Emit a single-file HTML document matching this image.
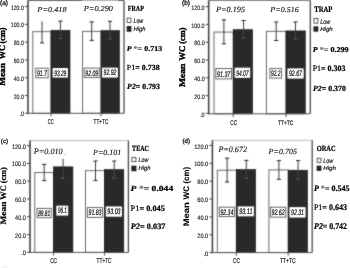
<!DOCTYPE html>
<html><head><meta charset="utf-8"><style>
html,body{margin:0;padding:0;background:#fff;}
body{width:350px;height:268px;overflow:hidden;}
svg{display:block;}
text{font-family:"Liberation Sans",sans-serif;}
</style></head><body>
<svg width="350" height="268" viewBox="0 0 350 268" text-rendering="geometricPrecision">
<defs><pattern id="chk" x="0" y="0" width="2" height="2" patternUnits="userSpaceOnUse"><rect width="2" height="2" fill="#080808"/><rect width="1" height="1" fill="#4a4a4a"/><rect x="1" y="1" width="1" height="1" fill="#4a4a4a"/></pattern><filter id="bl" x="0" y="0" width="350" height="268" filterUnits="userSpaceOnUse" color-interpolation-filters="sRGB"><feConvolveMatrix order="3" kernelMatrix="1 5 1 5 25 5 1 5 1" edgeMode="duplicate"/></filter><filter id="blt" x="0" y="0" width="350" height="268" filterUnits="userSpaceOnUse" color-interpolation-filters="sRGB"><feConvolveMatrix order="3" kernelMatrix="0 0 0 0 1 0 0 0 0" edgeMode="none" preserveAlpha="false"/></filter></defs>
<g filter="url(#bl)">
<rect width="350" height="268" fill="#fff"/>
<line x1="28.0" y1="0.5" x2="82.0" y2="0.5" stroke="#6a6a6a" stroke-width="1.0"/>
<line x1="82.0" y1="0.5" x2="118.0" y2="0.5" stroke="#b0b0b0" stroke-width="1.0"/>
<line x1="118.0" y1="0.5" x2="124.0" y2="0.5" stroke="#6a6a6a" stroke-width="1.0"/>
<line x1="124.0" y1="0.5" x2="124.0" y2="113.3" stroke="#4a4a4a" stroke-width="1.3"/>
<rect x="32.80" y="31.69" width="18.20" height="81.61" fill="#fff" stroke="#5a5a5a" stroke-width="0.9"/>
<rect x="51.00" y="30.27" width="19.00" height="83.03" fill="url(#chk)" stroke="#111" stroke-width="0.6"/>
<rect x="82.60" y="31.34" width="18.40" height="81.96" fill="#fff" stroke="#5a5a5a" stroke-width="0.9"/>
<rect x="101.00" y="30.60" width="18.50" height="82.70" fill="url(#chk)" stroke="#111" stroke-width="0.6"/>
<line x1="42.0" y1="21.4" x2="42.0" y2="42.9" stroke="#3a3a3a" stroke-width="1.0"/>
<line x1="39.9" y1="42.9" x2="44.1" y2="42.9" stroke="#222" stroke-width="1.0"/>
<line x1="60.4" y1="21.1" x2="60.4" y2="30.271899999999988" stroke="#3a3a3a" stroke-width="1.0"/>
<line x1="60.4" y1="30.271899999999988" x2="60.4" y2="38.6" stroke="#444" stroke-width="1.0"/>
<line x1="58.3" y1="21.1" x2="62.5" y2="21.1" stroke="#222" stroke-width="1.0"/>
<line x1="58.3" y1="38.6" x2="62.5" y2="38.6" stroke="#555" stroke-width="1.0"/>
<line x1="91.7" y1="21.9" x2="91.7" y2="40.4" stroke="#3a3a3a" stroke-width="1.0"/>
<line x1="89.60000000000001" y1="21.9" x2="93.8" y2="21.9" stroke="#222" stroke-width="1.0"/>
<line x1="89.60000000000001" y1="40.4" x2="93.8" y2="40.4" stroke="#222" stroke-width="1.0"/>
<line x1="110.0" y1="21.3" x2="110.0" y2="30.60119999999999" stroke="#3a3a3a" stroke-width="1.0"/>
<line x1="110.0" y1="30.60119999999999" x2="110.0" y2="39.0" stroke="#444" stroke-width="1.0"/>
<line x1="107.9" y1="21.3" x2="112.1" y2="21.3" stroke="#222" stroke-width="1.0"/>
<line x1="107.9" y1="39.0" x2="112.1" y2="39.0" stroke="#555" stroke-width="1.0"/>
<line x1="28.0" y1="0.5" x2="28.0" y2="113.8" stroke="#444" stroke-width="1.6"/>
<line x1="27.4" y1="113.3" x2="124.0" y2="113.3" stroke="#555" stroke-width="1.0"/>
<line x1="24.8" y1="113.3" x2="28.0" y2="113.3" stroke="#333" stroke-width="0.9"/>
<line x1="24.8" y1="95.5" x2="28.0" y2="95.5" stroke="#333" stroke-width="0.9"/>
<line x1="24.8" y1="77.69999999999999" x2="28.0" y2="77.69999999999999" stroke="#333" stroke-width="0.9"/>
<line x1="24.8" y1="59.9" x2="28.0" y2="59.9" stroke="#333" stroke-width="0.9"/>
<line x1="24.8" y1="42.099999999999994" x2="28.0" y2="42.099999999999994" stroke="#333" stroke-width="0.9"/>
<line x1="24.8" y1="24.299999999999997" x2="28.0" y2="24.299999999999997" stroke="#333" stroke-width="0.9"/>
<line x1="24.8" y1="6.5" x2="28.0" y2="6.5" stroke="#333" stroke-width="0.9"/>
<line x1="51.0" y1="113.3" x2="51.0" y2="116.5" stroke="#444" stroke-width="0.9"/>
<line x1="101.0" y1="113.3" x2="101.0" y2="116.5" stroke="#444" stroke-width="0.9"/>
<rect x="35.80" y="68.20" width="12.30" height="9.60" fill="#fff" stroke="#505050" stroke-width="0.9"/>
<rect x="53.10" y="68.50" width="14.30" height="8.60" fill="#fff" stroke="#fff" stroke-width="0.9"/>
<rect x="84.20" y="68.10" width="15.00" height="9.30" fill="#fff" stroke="#505050" stroke-width="0.9"/>
<rect x="102.50" y="68.10" width="15.00" height="9.00" fill="#fff" stroke="#fff" stroke-width="0.9"/>
<rect x="127.15" y="18.05" width="3.80" height="4.60" fill="#fff" stroke="#333" stroke-width="0.8"/>
<rect x="127.25" y="26.65" width="3.60" height="4.50" fill="url(#chk)" stroke="#111" stroke-width="1.1"/>
<line x1="208.7" y1="0.5" x2="310.3" y2="0.5" stroke="#888" stroke-width="1.0"/>
<line x1="310.3" y1="0.5" x2="310.3" y2="113.8" stroke="#4a4a4a" stroke-width="1.3"/>
<rect x="214.00" y="32.08" width="19.20" height="81.72" fill="#fff" stroke="#5a5a5a" stroke-width="0.9"/>
<rect x="233.20" y="29.68" width="19.40" height="84.12" fill="url(#chk)" stroke="#111" stroke-width="0.6"/>
<rect x="266.40" y="31.34" width="19.60" height="82.46" fill="#fff" stroke="#5a5a5a" stroke-width="0.9"/>
<rect x="286.00" y="30.92" width="19.30" height="82.88" fill="url(#chk)" stroke="#111" stroke-width="0.6"/>
<line x1="223.9" y1="19.8" x2="223.9" y2="43.8" stroke="#3a3a3a" stroke-width="1.0"/>
<line x1="221.8" y1="19.8" x2="226.0" y2="19.8" stroke="#222" stroke-width="1.0"/>
<line x1="221.8" y1="43.8" x2="226.0" y2="43.8" stroke="#222" stroke-width="1.0"/>
<line x1="243.6" y1="20.5" x2="243.6" y2="29.6777" stroke="#3a3a3a" stroke-width="1.0"/>
<line x1="243.6" y1="29.6777" x2="243.6" y2="38.0" stroke="#444" stroke-width="1.0"/>
<line x1="241.5" y1="20.5" x2="245.7" y2="20.5" stroke="#222" stroke-width="1.0"/>
<line x1="241.5" y1="38.0" x2="245.7" y2="38.0" stroke="#555" stroke-width="1.0"/>
<line x1="276.2" y1="22.0" x2="276.2" y2="40.5" stroke="#3a3a3a" stroke-width="1.0"/>
<line x1="274.09999999999997" y1="22.0" x2="278.3" y2="22.0" stroke="#222" stroke-width="1.0"/>
<line x1="274.09999999999997" y1="40.5" x2="278.3" y2="40.5" stroke="#222" stroke-width="1.0"/>
<line x1="295.5" y1="22.0" x2="295.5" y2="30.923699999999997" stroke="#3a3a3a" stroke-width="1.0"/>
<line x1="295.5" y1="30.923699999999997" x2="295.5" y2="39.0" stroke="#444" stroke-width="1.0"/>
<line x1="293.4" y1="22.0" x2="297.6" y2="22.0" stroke="#222" stroke-width="1.0"/>
<line x1="293.4" y1="39.0" x2="297.6" y2="39.0" stroke="#555" stroke-width="1.0"/>
<line x1="208.7" y1="0.5" x2="208.7" y2="114.3" stroke="#444" stroke-width="1.6"/>
<line x1="208.1" y1="113.8" x2="310.3" y2="113.8" stroke="#555" stroke-width="1.0"/>
<line x1="205.5" y1="113.4" x2="208.7" y2="113.4" stroke="#333" stroke-width="0.9"/>
<line x1="205.5" y1="95.6" x2="208.7" y2="95.6" stroke="#333" stroke-width="0.9"/>
<line x1="205.5" y1="77.8" x2="208.7" y2="77.8" stroke="#333" stroke-width="0.9"/>
<line x1="205.5" y1="60.0" x2="208.7" y2="60.0" stroke="#333" stroke-width="0.9"/>
<line x1="205.5" y1="42.19999999999999" x2="208.7" y2="42.19999999999999" stroke="#333" stroke-width="0.9"/>
<line x1="205.5" y1="24.39999999999999" x2="208.7" y2="24.39999999999999" stroke="#333" stroke-width="0.9"/>
<line x1="205.5" y1="6.599999999999994" x2="208.7" y2="6.599999999999994" stroke="#333" stroke-width="0.9"/>
<line x1="233.2" y1="113.8" x2="233.2" y2="117.0" stroke="#444" stroke-width="0.9"/>
<line x1="286.0" y1="113.8" x2="286.0" y2="117.0" stroke="#444" stroke-width="0.9"/>
<rect x="215.90" y="68.60" width="15.70" height="10.30" fill="#fff" stroke="#505050" stroke-width="0.9"/>
<rect x="235.10" y="68.10" width="14.70" height="9.30" fill="#fff" stroke="#fff" stroke-width="0.9"/>
<rect x="269.90" y="68.60" width="11.60" height="9.50" fill="#fff" stroke="#505050" stroke-width="0.9"/>
<rect x="287.90" y="68.90" width="15.30" height="9.20" fill="#fff" stroke="#fff" stroke-width="0.9"/>
<rect x="313.95" y="18.45" width="3.90" height="4.70" fill="#fff" stroke="#333" stroke-width="0.8"/>
<rect x="314.05" y="26.95" width="3.70" height="4.10" fill="url(#chk)" stroke="#111" stroke-width="1.1"/>
<line x1="30.0" y1="140.5" x2="128.4" y2="140.5" stroke="#bbb" stroke-width="1.0"/>
<line x1="128.4" y1="140.5" x2="128.4" y2="252.4" stroke="#4a4a4a" stroke-width="1.3"/>
<rect x="34.80" y="172.47" width="18.70" height="79.93" fill="#fff" stroke="#5a5a5a" stroke-width="0.9"/>
<rect x="53.50" y="166.87" width="19.40" height="85.53" fill="url(#chk)" stroke="#111" stroke-width="0.6"/>
<rect x="85.50" y="170.67" width="19.00" height="81.73" fill="#fff" stroke="#5a5a5a" stroke-width="0.9"/>
<rect x="104.50" y="169.60" width="19.30" height="82.80" fill="url(#chk)" stroke="#111" stroke-width="0.6"/>
<line x1="44.2" y1="164.4" x2="44.2" y2="180.6" stroke="#3a3a3a" stroke-width="1.0"/>
<line x1="42.1" y1="164.4" x2="46.300000000000004" y2="164.4" stroke="#222" stroke-width="1.0"/>
<line x1="42.1" y1="180.6" x2="46.300000000000004" y2="180.6" stroke="#222" stroke-width="1.0"/>
<line x1="63.1" y1="158.7" x2="63.1" y2="166.87099999999998" stroke="#3a3a3a" stroke-width="1.0"/>
<line x1="63.1" y1="166.87099999999998" x2="63.1" y2="178.5" stroke="#444" stroke-width="1.0"/>
<line x1="61.0" y1="178.5" x2="65.2" y2="178.5" stroke="#555" stroke-width="1.0"/>
<line x1="95.5" y1="161.0" x2="95.5" y2="180.4" stroke="#3a3a3a" stroke-width="1.0"/>
<line x1="93.4" y1="161.0" x2="97.6" y2="161.0" stroke="#222" stroke-width="1.0"/>
<line x1="93.4" y1="180.4" x2="97.6" y2="180.4" stroke="#222" stroke-width="1.0"/>
<line x1="114.2" y1="161.0" x2="114.2" y2="169.6033" stroke="#3a3a3a" stroke-width="1.0"/>
<line x1="114.2" y1="169.6033" x2="114.2" y2="177.9" stroke="#444" stroke-width="1.0"/>
<line x1="112.10000000000001" y1="161.0" x2="116.3" y2="161.0" stroke="#222" stroke-width="1.0"/>
<line x1="112.10000000000001" y1="177.9" x2="116.3" y2="177.9" stroke="#555" stroke-width="1.0"/>
<line x1="30.0" y1="140.5" x2="30.0" y2="252.9" stroke="#444" stroke-width="1.6"/>
<line x1="29.4" y1="252.4" x2="128.4" y2="252.4" stroke="#555" stroke-width="1.0"/>
<line x1="26.8" y1="252.4" x2="30.0" y2="252.4" stroke="#333" stroke-width="0.9"/>
<line x1="26.8" y1="234.6" x2="30.0" y2="234.6" stroke="#333" stroke-width="0.9"/>
<line x1="26.8" y1="216.8" x2="30.0" y2="216.8" stroke="#333" stroke-width="0.9"/>
<line x1="26.8" y1="199.0" x2="30.0" y2="199.0" stroke="#333" stroke-width="0.9"/>
<line x1="26.8" y1="181.2" x2="30.0" y2="181.2" stroke="#333" stroke-width="0.9"/>
<line x1="26.8" y1="163.39999999999998" x2="30.0" y2="163.39999999999998" stroke="#333" stroke-width="0.9"/>
<line x1="26.8" y1="145.6" x2="30.0" y2="145.6" stroke="#333" stroke-width="0.9"/>
<line x1="53.5" y1="252.4" x2="53.5" y2="255.6" stroke="#444" stroke-width="0.9"/>
<line x1="104.5" y1="252.4" x2="104.5" y2="255.6" stroke="#444" stroke-width="0.9"/>
<rect x="37.10" y="208.40" width="14.10" height="9.30" fill="#fff" stroke="#505050" stroke-width="0.9"/>
<rect x="56.80" y="206.10" width="11.00" height="9.00" fill="#fff" stroke="#fff" stroke-width="0.9"/>
<rect x="87.40" y="207.60" width="15.20" height="9.80" fill="#fff" stroke="#505050" stroke-width="0.9"/>
<rect x="106.20" y="206.90" width="15.40" height="9.30" fill="#fff" stroke="#fff" stroke-width="0.9"/>
<rect x="131.85" y="157.35" width="4.10" height="4.30" fill="#fff" stroke="#333" stroke-width="0.8"/>
<rect x="131.95" y="166.25" width="3.90" height="4.40" fill="url(#chk)" stroke="#111" stroke-width="1.1"/>
<line x1="212.4" y1="140.3" x2="312.2" y2="140.3" stroke="#bbb" stroke-width="1.0"/>
<line x1="312.2" y1="140.3" x2="312.2" y2="252.6" stroke="#4a4a4a" stroke-width="1.3"/>
<rect x="217.30" y="170.19" width="19.00" height="82.41" fill="#fff" stroke="#5a5a5a" stroke-width="0.9"/>
<rect x="236.30" y="169.50" width="19.30" height="83.10" fill="url(#chk)" stroke="#111" stroke-width="0.6"/>
<rect x="268.90" y="169.94" width="19.30" height="82.66" fill="#fff" stroke="#5a5a5a" stroke-width="0.9"/>
<rect x="288.20" y="170.21" width="19.30" height="82.39" fill="url(#chk)" stroke="#111" stroke-width="0.6"/>
<line x1="227.1" y1="158.2" x2="227.1" y2="182.0" stroke="#3a3a3a" stroke-width="1.0"/>
<line x1="225.0" y1="158.2" x2="229.2" y2="158.2" stroke="#222" stroke-width="1.0"/>
<line x1="225.0" y1="182.0" x2="229.2" y2="182.0" stroke="#222" stroke-width="1.0"/>
<line x1="246.3" y1="160.4" x2="246.3" y2="169.499325" stroke="#3a3a3a" stroke-width="1.0"/>
<line x1="246.3" y1="169.499325" x2="246.3" y2="178.6" stroke="#444" stroke-width="1.0"/>
<line x1="244.20000000000002" y1="160.4" x2="248.4" y2="160.4" stroke="#222" stroke-width="1.0"/>
<line x1="244.20000000000002" y1="178.6" x2="248.4" y2="178.6" stroke="#555" stroke-width="1.0"/>
<line x1="278.9" y1="160.6" x2="278.9" y2="179.3" stroke="#3a3a3a" stroke-width="1.0"/>
<line x1="276.79999999999995" y1="160.6" x2="281.0" y2="160.6" stroke="#222" stroke-width="1.0"/>
<line x1="276.79999999999995" y1="179.3" x2="281.0" y2="179.3" stroke="#222" stroke-width="1.0"/>
<line x1="298.1" y1="160.6" x2="298.1" y2="170.213325" stroke="#3a3a3a" stroke-width="1.0"/>
<line x1="298.1" y1="170.213325" x2="298.1" y2="179.0" stroke="#444" stroke-width="1.0"/>
<line x1="296.0" y1="160.6" x2="300.20000000000005" y2="160.6" stroke="#222" stroke-width="1.0"/>
<line x1="296.0" y1="179.0" x2="300.20000000000005" y2="179.0" stroke="#555" stroke-width="1.0"/>
<line x1="212.4" y1="140.3" x2="212.4" y2="253.1" stroke="#444" stroke-width="1.6"/>
<line x1="211.8" y1="252.6" x2="312.2" y2="252.6" stroke="#555" stroke-width="1.0"/>
<line x1="209.20000000000002" y1="252.6" x2="212.4" y2="252.6" stroke="#333" stroke-width="0.9"/>
<line x1="209.20000000000002" y1="234.75" x2="212.4" y2="234.75" stroke="#333" stroke-width="0.9"/>
<line x1="209.20000000000002" y1="216.9" x2="212.4" y2="216.9" stroke="#333" stroke-width="0.9"/>
<line x1="209.20000000000002" y1="199.05" x2="212.4" y2="199.05" stroke="#333" stroke-width="0.9"/>
<line x1="209.20000000000002" y1="181.2" x2="212.4" y2="181.2" stroke="#333" stroke-width="0.9"/>
<line x1="209.20000000000002" y1="163.35" x2="212.4" y2="163.35" stroke="#333" stroke-width="0.9"/>
<line x1="209.20000000000002" y1="145.5" x2="212.4" y2="145.5" stroke="#333" stroke-width="0.9"/>
<line x1="236.3" y1="252.6" x2="236.3" y2="255.79999999999998" stroke="#444" stroke-width="0.9"/>
<line x1="288.2" y1="252.6" x2="288.2" y2="255.79999999999998" stroke="#444" stroke-width="0.9"/>
<rect x="219.40" y="207.20" width="15.00" height="9.40" fill="#fff" stroke="#505050" stroke-width="0.9"/>
<rect x="238.20" y="206.90" width="15.40" height="9.00" fill="#fff" stroke="#fff" stroke-width="0.9"/>
<rect x="270.40" y="207.20" width="15.40" height="9.90" fill="#fff" stroke="#505050" stroke-width="0.9"/>
<rect x="289.90" y="207.60" width="15.20" height="9.50" fill="#fff" stroke="#fff" stroke-width="0.9"/>
<rect x="317.15" y="158.25" width="3.80" height="4.30" fill="#fff" stroke="#333" stroke-width="0.8"/>
<rect x="317.25" y="166.25" width="3.60" height="4.00" fill="url(#chk)" stroke="#111" stroke-width="1.1"/>
<circle cx="65.0" cy="154.3" r="0.6" fill="#777"/>
</g>
<g filter="url(#blt)">
<text transform="translate(5.10,43.40) rotate(-90) scale(0.952,1)" font-size="8.60" fill="#000" stroke="#000" stroke-width="0.4"><tspan font-family="Liberation Serif" font-style="normal" font-weight="bold">(cm)</tspan></text>
<text transform="translate(5.10,59.20) rotate(-90) scale(0.959,1)" font-size="8.60" fill="#000" stroke="#000" stroke-width="0.4"><tspan font-family="Liberation Serif" font-style="normal" font-weight="bold">WC</tspan></text>
<text transform="translate(5.10,85.70) rotate(-90) scale(1.075,1)" font-size="8.60" fill="#000" stroke="#000" stroke-width="0.4"><tspan font-family="Liberation Serif" font-style="normal" font-weight="bold">Mean</tspan></text>
<text transform="translate(0.10,4.52) scale(0.972,1)" font-size="6.65" fill="#222" stroke="#222" stroke-width="0.35"><tspan font-family="Liberation Sans" font-style="normal" font-weight="normal">(a)</tspan></text>
<text transform="translate(19.47,116.44) scale(0.799,1)" font-size="6.50" fill="#2a2a2a" stroke="#2a2a2a" stroke-width="0.18"><tspan font-family="Liberation Sans" font-style="normal" font-weight="normal">.0</tspan></text>
<text transform="translate(13.69,98.64) scale(0.800,1)" font-size="6.50" fill="#2a2a2a" stroke="#2a2a2a" stroke-width="0.18"><tspan font-family="Liberation Sans" font-style="normal" font-weight="normal">20.0</tspan></text>
<text transform="translate(13.69,80.84) scale(0.800,1)" font-size="6.50" fill="#2a2a2a" stroke="#2a2a2a" stroke-width="0.18"><tspan font-family="Liberation Sans" font-style="normal" font-weight="normal">40.0</tspan></text>
<text transform="translate(13.69,63.04) scale(0.800,1)" font-size="6.50" fill="#2a2a2a" stroke="#2a2a2a" stroke-width="0.18"><tspan font-family="Liberation Sans" font-style="normal" font-weight="normal">60.0</tspan></text>
<text transform="translate(13.69,45.24) scale(0.800,1)" font-size="6.50" fill="#2a2a2a" stroke="#2a2a2a" stroke-width="0.18"><tspan font-family="Liberation Sans" font-style="normal" font-weight="normal">80.0</tspan></text>
<text transform="translate(10.80,27.44) scale(0.800,1)" font-size="6.50" fill="#2a2a2a" stroke="#2a2a2a" stroke-width="0.18"><tspan font-family="Liberation Sans" font-style="normal" font-weight="normal">100.0</tspan></text>
<text transform="translate(10.80,9.64) scale(0.800,1)" font-size="6.50" fill="#2a2a2a" stroke="#2a2a2a" stroke-width="0.18"><tspan font-family="Liberation Sans" font-style="normal" font-weight="normal">120.0</tspan></text>
<text transform="translate(37.35,12.19) scale(1.080,1)" font-size="7.66" fill="#1a1a1a" stroke="#1a1a1a" stroke-width="0.15"><tspan font-family="Liberation Serif" font-style="italic" font-weight="normal">P</tspan><tspan font-family="Liberation Serif" font-style="italic" font-weight="normal">=0.418</tspan></text>
<text transform="translate(83.75,11.49) scale(1.080,1)" font-size="7.66" fill="#1a1a1a" stroke="#1a1a1a" stroke-width="0.15"><tspan font-family="Liberation Serif" font-style="italic" font-weight="normal">P</tspan><tspan font-family="Liberation Serif" font-style="italic" font-weight="normal">=0.290</tspan></text>
<text transform="translate(127.70,11.40) scale(0.791,1)" font-size="7.73" fill="#000" stroke="#000" stroke-width="0.22"><tspan font-family="Liberation Serif" font-style="normal" font-weight="bold">FRAP</tspan></text>
<text transform="translate(133.60,23.04) scale(0.805,1)" font-size="6.45" fill="#222" stroke="#222" stroke-width="0.22"><tspan font-family="Liberation Sans" font-style="italic" font-weight="normal">Low</tspan></text>
<text transform="translate(133.60,31.11) scale(0.938,1)" font-size="6.22" fill="#222" stroke="#222" stroke-width="0.22"><tspan font-family="Liberation Sans" font-style="italic" font-weight="normal">High</tspan></text>
<text transform="translate(126.71,51.30) scale(1.085,1)" font-size="7.36" fill="#000" stroke="#000" stroke-width="0.22"><tspan font-family="Liberation Serif" font-style="italic" font-weight="bold">P</tspan><tspan font-family="Liberation Serif" font-style="normal" font-weight="bold" fill="#777" stroke="#777"> *</tspan><tspan font-family="Liberation Serif" font-style="normal" font-weight="bold" fill="#444" stroke="#444">= </tspan><tspan font-family="Liberation Serif" font-style="normal" font-weight="bold">0.713</tspan></text>
<text transform="translate(126.70,70.29) scale(1.028,1)" font-size="7.81" fill="#000" stroke="#000" stroke-width="0.22"><tspan font-family="Liberation Serif" font-style="normal" font-weight="normal">P1</tspan><tspan font-family="Liberation Serif" font-style="normal" font-weight="bold">= 0.738</tspan></text>
<text transform="translate(127.11,89.29) scale(1.005,1)" font-size="7.81" fill="#000" stroke="#000" stroke-width="0.22"><tspan font-family="Liberation Serif" font-style="italic" font-weight="bold">P2</tspan><tspan font-family="Liberation Serif" font-style="normal" font-weight="bold">= 0.793</tspan></text>
<text transform="translate(47.80,124.23) scale(0.580,1)" font-size="6.92" fill="#222" stroke="#222" stroke-width="0.22"><tspan font-family="Liberation Sans" font-style="normal" font-weight="normal">CC</tspan></text>
<text transform="translate(93.60,124.33) scale(0.691,1)" font-size="6.78" fill="#222" stroke="#222" stroke-width="0.22"><tspan font-family="Liberation Sans" font-style="normal" font-weight="normal">TT+TC</tspan></text>
<text transform="translate(36.90,75.87) scale(0.635,1)" font-size="8.05" fill="#111" stroke="#111" stroke-width="0.22"><tspan font-family="Liberation Sans" font-style="italic" font-weight="normal">91.7</tspan></text>
<text transform="translate(54.20,75.67) scale(0.601,1)" font-size="8.05" fill="#111" stroke="#111" stroke-width="0.22"><tspan font-family="Liberation Sans" font-style="italic" font-weight="normal">93.29</tspan></text>
<text transform="translate(85.30,75.62) scale(0.635,1)" font-size="8.05" fill="#111" stroke="#111" stroke-width="0.22"><tspan font-family="Liberation Sans" font-style="italic" font-weight="normal">92.09</tspan></text>
<text transform="translate(103.60,75.47) scale(0.635,1)" font-size="8.05" fill="#111" stroke="#111" stroke-width="0.22"><tspan font-family="Liberation Sans" font-style="italic" font-weight="normal">92.92</tspan></text>
<text transform="translate(184.90,43.70) rotate(-90) scale(0.964,1)" font-size="8.60" fill="#000" stroke="#000" stroke-width="0.4"><tspan font-family="Liberation Serif" font-style="normal" font-weight="bold">(cm)</tspan></text>
<text transform="translate(184.90,60.70) rotate(-90) scale(1.026,1)" font-size="8.60" fill="#000" stroke="#000" stroke-width="0.4"><tspan font-family="Liberation Serif" font-style="normal" font-weight="bold">WC</tspan></text>
<text transform="translate(184.90,87.00) rotate(-90) scale(1.109,1)" font-size="8.60" fill="#000" stroke="#000" stroke-width="0.4"><tspan font-family="Liberation Serif" font-style="normal" font-weight="bold">Mean</tspan></text>
<text transform="translate(182.00,4.52) scale(0.984,1)" font-size="6.65" fill="#222" stroke="#222" stroke-width="0.35"><tspan font-family="Liberation Sans" font-style="normal" font-weight="normal">(b)</tspan></text>
<text transform="translate(200.13,116.54) scale(0.825,1)" font-size="6.50" fill="#2a2a2a" stroke="#2a2a2a" stroke-width="0.18"><tspan font-family="Liberation Sans" font-style="normal" font-weight="normal">.0</tspan></text>
<text transform="translate(194.18,98.74) scale(0.824,1)" font-size="6.50" fill="#2a2a2a" stroke="#2a2a2a" stroke-width="0.18"><tspan font-family="Liberation Sans" font-style="normal" font-weight="normal">20.0</tspan></text>
<text transform="translate(194.18,80.94) scale(0.824,1)" font-size="6.50" fill="#2a2a2a" stroke="#2a2a2a" stroke-width="0.18"><tspan font-family="Liberation Sans" font-style="normal" font-weight="normal">40.0</tspan></text>
<text transform="translate(194.18,63.14) scale(0.824,1)" font-size="6.50" fill="#2a2a2a" stroke="#2a2a2a" stroke-width="0.18"><tspan font-family="Liberation Sans" font-style="normal" font-weight="normal">60.0</tspan></text>
<text transform="translate(194.18,45.34) scale(0.824,1)" font-size="6.50" fill="#2a2a2a" stroke="#2a2a2a" stroke-width="0.18"><tspan font-family="Liberation Sans" font-style="normal" font-weight="normal">80.0</tspan></text>
<text transform="translate(191.20,27.54) scale(0.824,1)" font-size="6.50" fill="#2a2a2a" stroke="#2a2a2a" stroke-width="0.18"><tspan font-family="Liberation Sans" font-style="normal" font-weight="normal">100.0</tspan></text>
<text transform="translate(191.20,9.74) scale(0.824,1)" font-size="6.50" fill="#2a2a2a" stroke="#2a2a2a" stroke-width="0.18"><tspan font-family="Liberation Sans" font-style="normal" font-weight="normal">120.0</tspan></text>
<text transform="translate(215.95,11.79) scale(1.018,1)" font-size="8.10" fill="#1a1a1a" stroke="#1a1a1a" stroke-width="0.15"><tspan font-family="Liberation Serif" font-style="italic" font-weight="normal">P</tspan><tspan font-family="Liberation Serif" font-style="italic" font-weight="normal">=0.195</tspan></text>
<text transform="translate(270.35,12.09) scale(1.054,1)" font-size="7.66" fill="#1a1a1a" stroke="#1a1a1a" stroke-width="0.15"><tspan font-family="Liberation Serif" font-style="italic" font-weight="normal">P</tspan><tspan font-family="Liberation Serif" font-style="italic" font-weight="normal">=0.516</tspan></text>
<text transform="translate(314.20,11.80) scale(0.802,1)" font-size="8.33" fill="#000" stroke="#000" stroke-width="0.22"><tspan font-family="Liberation Serif" font-style="normal" font-weight="bold">TRAP</tspan></text>
<text transform="translate(320.20,23.53) scale(0.802,1)" font-size="6.73" fill="#222" stroke="#222" stroke-width="0.22"><tspan font-family="Liberation Sans" font-style="italic" font-weight="normal">Low</tspan></text>
<text transform="translate(320.20,31.10) scale(1.050,1)" font-size="5.79" fill="#222" stroke="#222" stroke-width="0.22"><tspan font-family="Liberation Sans" font-style="italic" font-weight="normal">High</tspan></text>
<text transform="translate(312.71,52.29) scale(1.079,1)" font-size="7.51" fill="#000" stroke="#000" stroke-width="0.22"><tspan font-family="Liberation Serif" font-style="italic" font-weight="bold">P</tspan><tspan font-family="Liberation Serif" font-style="normal" font-weight="bold" fill="#777" stroke="#777"> *</tspan><tspan font-family="Liberation Serif" font-style="normal" font-weight="bold" fill="#444" stroke="#444">= </tspan><tspan font-family="Liberation Serif" font-style="normal" font-weight="bold">0.299</tspan></text>
<text transform="translate(312.70,71.28) scale(0.964,1)" font-size="8.25" fill="#000" stroke="#000" stroke-width="0.22"><tspan font-family="Liberation Serif" font-style="normal" font-weight="normal">P1</tspan><tspan font-family="Liberation Serif" font-style="normal" font-weight="bold">= 0.303</tspan></text>
<text transform="translate(312.91,90.69) scale(1.014,1)" font-size="7.81" fill="#000" stroke="#000" stroke-width="0.22"><tspan font-family="Liberation Serif" font-style="italic" font-weight="bold">P2</tspan><tspan font-family="Liberation Serif" font-style="normal" font-weight="bold">= 0.370</tspan></text>
<text transform="translate(230.30,125.13) scale(0.684,1)" font-size="6.78" fill="#222" stroke="#222" stroke-width="0.22"><tspan font-family="Liberation Sans" font-style="normal" font-weight="normal">CC</tspan></text>
<text transform="translate(278.00,124.94) scale(0.755,1)" font-size="6.50" fill="#222" stroke="#222" stroke-width="0.22"><tspan font-family="Liberation Sans" font-style="normal" font-weight="normal">TT+TC</tspan></text>
<text transform="translate(217.00,76.62) scale(0.662,1)" font-size="8.05" fill="#111" stroke="#111" stroke-width="0.22"><tspan font-family="Liberation Sans" font-style="italic" font-weight="normal">91.37</tspan></text>
<text transform="translate(236.20,75.62) scale(0.613,1)" font-size="8.05" fill="#111" stroke="#111" stroke-width="0.22"><tspan font-family="Liberation Sans" font-style="italic" font-weight="normal">94.07</tspan></text>
<text transform="translate(271.00,76.22) scale(0.600,1)" font-size="8.05" fill="#111" stroke="#111" stroke-width="0.22"><tspan font-family="Liberation Sans" font-style="italic" font-weight="normal">92.2</tspan></text>
<text transform="translate(289.00,76.37) scale(0.642,1)" font-size="8.05" fill="#111" stroke="#111" stroke-width="0.22"><tspan font-family="Liberation Sans" font-style="italic" font-weight="normal">92.67</tspan></text>
<text transform="translate(6.00,183.20) rotate(-90) scale(0.986,1)" font-size="8.40" fill="#000" stroke="#000" stroke-width="0.2"><tspan font-family="Liberation Serif" font-style="normal" font-weight="bold">(cm)</tspan></text>
<text transform="translate(6.00,199.70) rotate(-90) scale(0.996,1)" font-size="8.40" fill="#000" stroke="#000" stroke-width="0.2"><tspan font-family="Liberation Serif" font-style="normal" font-weight="bold">WC</tspan></text>
<text transform="translate(6.00,224.60) rotate(-90) scale(1.125,1)" font-size="8.40" fill="#000" stroke="#000" stroke-width="0.2"><tspan font-family="Liberation Serif" font-style="normal" font-weight="bold">Mean</tspan></text>
<text transform="translate(0.80,142.60) scale(1.095,1)" font-size="5.79" fill="#222" stroke="#222" stroke-width="0.35"><tspan font-family="Liberation Sans" font-style="normal" font-weight="normal">(c)</tspan></text>
<text transform="translate(21.20,255.48) scale(0.831,1)" font-size="6.64" fill="#2a2a2a" stroke="#2a2a2a" stroke-width="0.18"><tspan font-family="Liberation Sans" font-style="normal" font-weight="normal">.0</tspan></text>
<text transform="translate(15.07,237.68) scale(0.831,1)" font-size="6.64" fill="#2a2a2a" stroke="#2a2a2a" stroke-width="0.18"><tspan font-family="Liberation Sans" font-style="normal" font-weight="normal">20.0</tspan></text>
<text transform="translate(15.07,219.88) scale(0.831,1)" font-size="6.64" fill="#2a2a2a" stroke="#2a2a2a" stroke-width="0.18"><tspan font-family="Liberation Sans" font-style="normal" font-weight="normal">40.0</tspan></text>
<text transform="translate(15.07,202.08) scale(0.831,1)" font-size="6.64" fill="#2a2a2a" stroke="#2a2a2a" stroke-width="0.18"><tspan font-family="Liberation Sans" font-style="normal" font-weight="normal">60.0</tspan></text>
<text transform="translate(15.07,184.28) scale(0.831,1)" font-size="6.64" fill="#2a2a2a" stroke="#2a2a2a" stroke-width="0.18"><tspan font-family="Liberation Sans" font-style="normal" font-weight="normal">80.0</tspan></text>
<text transform="translate(12.00,166.48) scale(0.831,1)" font-size="6.64" fill="#2a2a2a" stroke="#2a2a2a" stroke-width="0.18"><tspan font-family="Liberation Sans" font-style="normal" font-weight="normal">100.0</tspan></text>
<text transform="translate(12.00,148.68) scale(0.831,1)" font-size="6.64" fill="#2a2a2a" stroke="#2a2a2a" stroke-width="0.18"><tspan font-family="Liberation Sans" font-style="normal" font-weight="normal">120.0</tspan></text>
<text transform="translate(33.65,153.88) scale(0.996,1)" font-size="8.25" fill="#1a1a1a" stroke="#1a1a1a" stroke-width="0.15"><tspan font-family="Liberation Serif" font-style="italic" font-weight="normal">P</tspan><tspan font-family="Liberation Serif" font-style="italic" font-weight="normal">=0.010</tspan></text>
<text transform="translate(93.05,155.19) scale(1.024,1)" font-size="7.81" fill="#1a1a1a" stroke="#1a1a1a" stroke-width="0.15"><tspan font-family="Liberation Serif" font-style="italic" font-weight="normal">P</tspan><tspan font-family="Liberation Serif" font-style="italic" font-weight="normal">=0.101</tspan></text>
<text transform="translate(132.10,150.62) scale(0.771,1)" font-size="7.89" fill="#000" stroke="#000" stroke-width="0.22"><tspan font-family="Liberation Serif" font-style="normal" font-weight="bold">TEAC</tspan></text>
<text transform="translate(138.60,162.03) scale(0.804,1)" font-size="6.59" fill="#222" stroke="#222" stroke-width="0.22"><tspan font-family="Liberation Sans" font-style="italic" font-weight="normal">Low</tspan></text>
<text transform="translate(138.60,170.25) scale(0.956,1)" font-size="6.00" fill="#222" stroke="#222" stroke-width="0.22"><tspan font-family="Liberation Sans" font-style="italic" font-weight="normal">High</tspan></text>
<text transform="translate(130.61,190.99) scale(1.232,1)" font-size="7.81" fill="#000" stroke="#000" stroke-width="0.22"><tspan font-family="Liberation Serif" font-style="italic" font-weight="bold">P</tspan><tspan font-family="Liberation Serif" font-style="normal" font-weight="bold" fill="#777" stroke="#777"> *</tspan><tspan font-family="Liberation Serif" font-style="normal" font-weight="bold" fill="#444" stroke="#444">= </tspan><tspan font-family="Liberation Serif" font-style="normal" font-weight="bold">0.044</tspan></text>
<text transform="translate(130.60,210.78) scale(1.008,1)" font-size="8.25" fill="#000" stroke="#000" stroke-width="0.22"><tspan font-family="Liberation Serif" font-style="normal" font-weight="normal">P1</tspan><tspan font-family="Liberation Serif" font-style="normal" font-weight="bold">= 0.045</tspan></text>
<text transform="translate(130.81,229.48) scale(1.003,1)" font-size="8.25" fill="#000" stroke="#000" stroke-width="0.22"><tspan font-family="Liberation Serif" font-style="italic" font-weight="bold">P2</tspan><tspan font-family="Liberation Serif" font-style="normal" font-weight="bold">= 0.037</tspan></text>
<text transform="translate(50.20,263.03) scale(0.695,1)" font-size="6.78" fill="#222" stroke="#222" stroke-width="0.22"><tspan font-family="Liberation Sans" font-style="normal" font-weight="normal">CC</tspan></text>
<text transform="translate(96.60,263.03) scale(0.663,1)" font-size="7.20" fill="#222" stroke="#222" stroke-width="0.22"><tspan font-family="Liberation Sans" font-style="normal" font-weight="normal">TT+TC</tspan></text>
<text transform="translate(38.20,215.92) scale(0.591,1)" font-size="8.05" fill="#111" stroke="#111" stroke-width="0.22"><tspan font-family="Liberation Sans" font-style="italic" font-weight="normal">89.81</tspan></text>
<text transform="translate(57.90,213.47) scale(0.562,1)" font-size="8.05" fill="#111" stroke="#111" stroke-width="0.22"><tspan font-family="Liberation Sans" font-style="italic" font-weight="normal">96.1</tspan></text>
<text transform="translate(88.50,215.37) scale(0.645,1)" font-size="8.05" fill="#111" stroke="#111" stroke-width="0.22"><tspan font-family="Liberation Sans" font-style="italic" font-weight="normal">91.83</tspan></text>
<text transform="translate(107.30,214.42) scale(0.655,1)" font-size="8.05" fill="#111" stroke="#111" stroke-width="0.22"><tspan font-family="Liberation Sans" font-style="italic" font-weight="normal">93.03</tspan></text>
<text transform="translate(188.70,183.60) rotate(-90) scale(0.977,1)" font-size="8.10" fill="#000" stroke="#000" stroke-width="0.12"><tspan font-family="Liberation Sans" font-style="normal" font-weight="bold">(cm)</tspan></text>
<text transform="translate(188.70,199.50) rotate(-90) scale(1.000,1)" font-size="8.10" fill="#000" stroke="#000" stroke-width="0.12"><tspan font-family="Liberation Sans" font-style="normal" font-weight="bold">WC</tspan></text>
<text transform="translate(188.70,226.30) rotate(-90) scale(1.169,1)" font-size="8.10" fill="#000" stroke="#000" stroke-width="0.12"><tspan font-family="Liberation Sans" font-style="normal" font-weight="bold">Mean</tspan></text>
<text transform="translate(182.60,142.53) scale(0.990,1)" font-size="6.12" fill="#222" stroke="#222" stroke-width="0.35"><tspan font-family="Liberation Sans" font-style="normal" font-weight="normal">(d)</tspan></text>
<text transform="translate(203.53,255.74) scale(0.862,1)" font-size="6.50" fill="#2a2a2a" stroke="#2a2a2a" stroke-width="0.18"><tspan font-family="Liberation Sans" font-style="normal" font-weight="normal">.0</tspan></text>
<text transform="translate(197.31,237.89) scale(0.861,1)" font-size="6.50" fill="#2a2a2a" stroke="#2a2a2a" stroke-width="0.18"><tspan font-family="Liberation Sans" font-style="normal" font-weight="normal">20.0</tspan></text>
<text transform="translate(197.31,220.04) scale(0.861,1)" font-size="6.50" fill="#2a2a2a" stroke="#2a2a2a" stroke-width="0.18"><tspan font-family="Liberation Sans" font-style="normal" font-weight="normal">40.0</tspan></text>
<text transform="translate(197.31,202.19) scale(0.861,1)" font-size="6.50" fill="#2a2a2a" stroke="#2a2a2a" stroke-width="0.18"><tspan font-family="Liberation Sans" font-style="normal" font-weight="normal">60.0</tspan></text>
<text transform="translate(197.31,184.34) scale(0.861,1)" font-size="6.50" fill="#2a2a2a" stroke="#2a2a2a" stroke-width="0.18"><tspan font-family="Liberation Sans" font-style="normal" font-weight="normal">80.0</tspan></text>
<text transform="translate(194.20,166.49) scale(0.861,1)" font-size="6.50" fill="#2a2a2a" stroke="#2a2a2a" stroke-width="0.18"><tspan font-family="Liberation Sans" font-style="normal" font-weight="normal">100.0</tspan></text>
<text transform="translate(194.20,148.64) scale(0.861,1)" font-size="6.50" fill="#2a2a2a" stroke="#2a2a2a" stroke-width="0.18"><tspan font-family="Liberation Sans" font-style="normal" font-weight="normal">120.0</tspan></text>
<text transform="translate(218.45,152.08) scale(0.962,1)" font-size="8.39" fill="#1a1a1a" stroke="#1a1a1a" stroke-width="0.15"><tspan font-family="Liberation Serif" font-style="italic" font-weight="normal">P</tspan><tspan font-family="Liberation Serif" font-style="italic" font-weight="normal">=0.672</tspan></text>
<text transform="translate(268.55,153.89) scale(1.038,1)" font-size="7.81" fill="#1a1a1a" stroke="#1a1a1a" stroke-width="0.15"><tspan font-family="Liberation Serif" font-style="italic" font-weight="normal">P</tspan><tspan font-family="Liberation Serif" font-style="italic" font-weight="normal">=0.705</tspan></text>
<text transform="translate(316.70,150.92) scale(0.814,1)" font-size="7.89" fill="#000" stroke="#000" stroke-width="0.22"><tspan font-family="Liberation Serif" font-style="normal" font-weight="bold">ORAC</tspan></text>
<text transform="translate(323.30,162.93) scale(0.820,1)" font-size="6.59" fill="#222" stroke="#222" stroke-width="0.22"><tspan font-family="Liberation Sans" font-style="italic" font-weight="normal">Low</tspan></text>
<text transform="translate(323.30,170.20) scale(1.058,1)" font-size="5.79" fill="#222" stroke="#222" stroke-width="0.22"><tspan font-family="Liberation Sans" font-style="italic" font-weight="normal">High</tspan></text>
<text transform="translate(313.91,190.58) scale(0.977,1)" font-size="8.25" fill="#000" stroke="#000" stroke-width="0.22"><tspan font-family="Liberation Serif" font-style="italic" font-weight="bold">P</tspan><tspan font-family="Liberation Serif" font-style="normal" font-weight="bold" fill="#777" stroke="#777"> *</tspan><tspan font-family="Liberation Serif" font-style="normal" font-weight="bold" fill="#444" stroke="#444">= </tspan><tspan font-family="Liberation Serif" font-style="normal" font-weight="bold">0.545</tspan></text>
<text transform="translate(313.90,209.58) scale(0.939,1)" font-size="8.54" fill="#000" stroke="#000" stroke-width="0.22"><tspan font-family="Liberation Serif" font-style="normal" font-weight="normal">P1</tspan><tspan font-family="Liberation Serif" font-style="normal" font-weight="bold">= 0.643</tspan></text>
<text transform="translate(314.11,229.18) scale(0.905,1)" font-size="8.69" fill="#000" stroke="#000" stroke-width="0.22"><tspan font-family="Liberation Serif" font-style="italic" font-weight="bold">P2</tspan><tspan font-family="Liberation Serif" font-style="normal" font-weight="bold">= 0.742</tspan></text>
<text transform="translate(233.00,263.43) scale(0.690,1)" font-size="6.92" fill="#222" stroke="#222" stroke-width="0.22"><tspan font-family="Liberation Sans" font-style="normal" font-weight="normal">CC</tspan></text>
<text transform="translate(279.90,263.23) scale(0.747,1)" font-size="6.78" fill="#222" stroke="#222" stroke-width="0.22"><tspan font-family="Liberation Sans" font-style="normal" font-weight="normal">TT+TC</tspan></text>
<text transform="translate(220.50,214.77) scale(0.635,1)" font-size="8.05" fill="#111" stroke="#111" stroke-width="0.22"><tspan font-family="Liberation Sans" font-style="italic" font-weight="normal">92.34</tspan></text>
<text transform="translate(239.30,214.27) scale(0.675,1)" font-size="8.05" fill="#111" stroke="#111" stroke-width="0.22"><tspan font-family="Liberation Sans" font-style="italic" font-weight="normal">93.11</tspan></text>
<text transform="translate(271.50,215.02) scale(0.655,1)" font-size="8.05" fill="#111" stroke="#111" stroke-width="0.22"><tspan font-family="Liberation Sans" font-style="italic" font-weight="normal">92.62</tspan></text>
<text transform="translate(291.00,215.22) scale(0.645,1)" font-size="8.05" fill="#111" stroke="#111" stroke-width="0.22"><tspan font-family="Liberation Sans" font-style="italic" font-weight="normal">92.31</tspan></text>
<text transform="translate(0.80,268.80) scale(1.045,1)" font-size="5.79" fill="#f0f0f0" stroke="#f0f0f0" stroke-width="0.22"><tspan font-family="Liberation Sans" font-style="normal" font-weight="normal">(e)</tspan></text>
</g>
</svg>
</body></html>
